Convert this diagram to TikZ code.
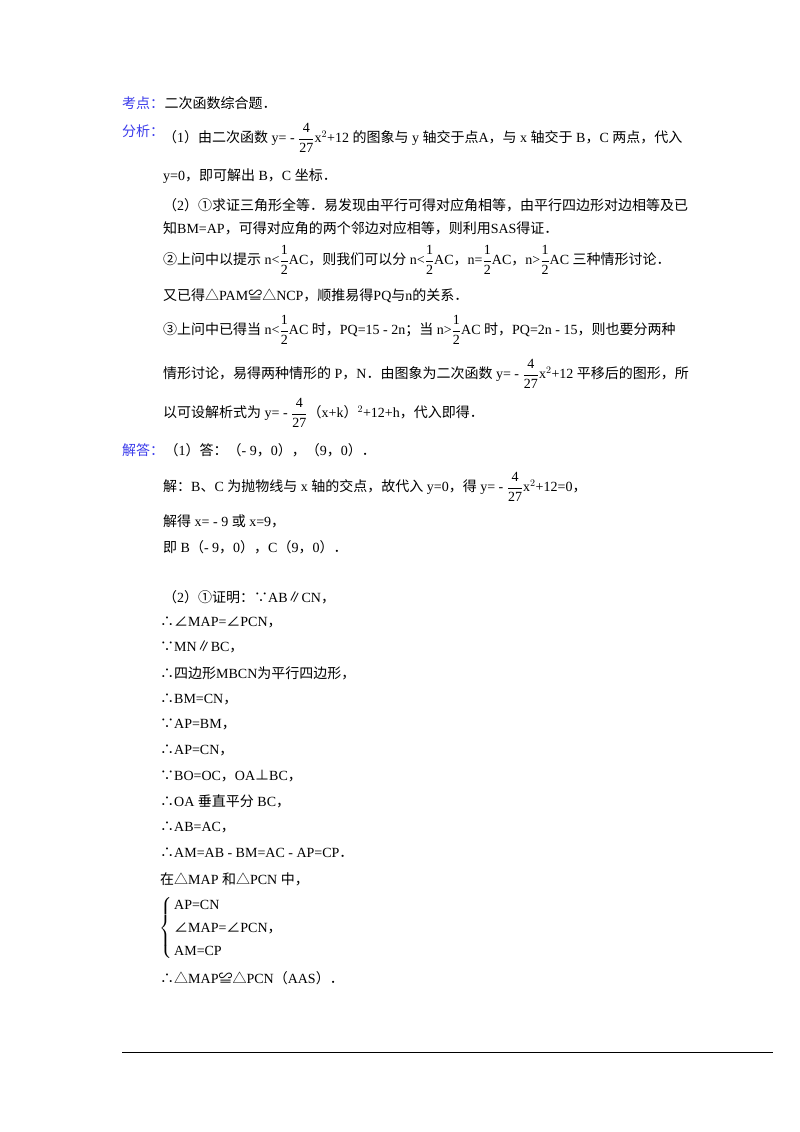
\documentclass[tikz,border=0pt]{standalone}
\usepackage{fontspec}
\setmainfont{Liberation Serif}
\newfontfamily\cjk{Noto Sans CJK SC}
\XeTeXinterchartokenstate=1
\newXeTeXintercharclass\cjkclass
\count255="4E00 \loop \XeTeXcharclass\count255=\cjkclass \advance\count255 1 \ifnum\count255<"A000 \repeat
\count255="3000 \loop \XeTeXcharclass\count255=\cjkclass \advance\count255 1 \ifnum\count255<"3040 \repeat
\count255="FF00 \loop \XeTeXcharclass\count255=\cjkclass \advance\count255 1 \ifnum\count255<"FF60 \repeat
\count255="2460 \loop \XeTeXcharclass\count255=\cjkclass \advance\count255 1 \ifnum\count255<"2474 \repeat
\XeTeXcharclass`∵=\cjkclass \XeTeXcharclass`∴=\cjkclass \XeTeXcharclass`∠=\cjkclass
\XeTeXcharclass`△=\cjkclass \XeTeXcharclass`≌=\cjkclass \XeTeXcharclass`∥=\cjkclass
\XeTeXcharclass`⊥=\cjkclass
\XeTeXinterchartoks 0 \cjkclass = {\begingroup\cjk}
\XeTeXinterchartoks 4095 \cjkclass = {\begingroup\cjk}
\XeTeXinterchartoks \cjkclass 0 = {\endgroup}
\XeTeXinterchartoks \cjkclass 4095 = {\endgroup}
\newcommand\fr[2]{$\dfrac{\mbox{#1}}{\mbox{#2}}$}
\usepackage{amsmath}
\definecolor{lbl}{RGB}{60,60,235}
\begin{document}
\begin{tikzpicture}[x=1pt,y=-1pt,
  t/.style={anchor=west,inner sep=0pt,font=\fontsize{14}{16}\selectfont}]
\useasboundingbox[fill=white] (0,0) rectangle (800,1132);
\node[t,text=lbl] (k) at (122,103) {考点：};
\node[t] (k1) at (k.east) {二次函数综合题．};
\node[t,text=lbl] (f) at (122,131) {分析：};
\node[t] (a1) at (163,138) {（1）由二次函数 y= - \fr{4}{27}x$^2$+12 的图象与 y 轴交于点A，与 x 轴交于 B，C 两点，代入};
\node[t] (a2) at (163,176) {y=0，即可解出 B，C 坐标．};
\node[t] (a3) at (163,205) {（2）①求证三角形全等．易发现由平行可得对应角相等，由平行四边形对边相等及已};
\node[t] (a4) at (163,228) {知BM=AP，可得对应角的两个邻边对应相等，则利用SAS得证．};
\node[t] (a5) at (163,260) {②上问中以提示 n<\fr{1}{2}AC，则我们可以分 n<\fr{1}{2}AC，n=\fr{1}{2}AC，n>\fr{1}{2}AC 三种情形讨论．};
\node[t] (a6) at (163,296) {又已得△PAM≌△NCP，顺推易得PQ与n的关系．};
\node[t] (a7) at (163,330) {③上问中已得当 n<\fr{1}{2}AC 时，PQ=15 - 2n；当 n>\fr{1}{2}AC 时，PQ=2n - 15，则也要分两种};
\node[t] (a8) at (163,374) {情形讨论，易得两种情形的 P，N．由图象为二次函数 y= - \fr{4}{27}x$^2$+12 平移后的图形，所};
\node[t] (a9) at (163,413) {以可设解析式为 y= - \fr{4}{27}（x+k）$^2$+12+h，代入即得．};
\node[t,text=lbl] (j) at (122,450) {解答：};
\node[t] (j1) at (j.east) {（1）答：（- 9，0），（9，0）．};
\node[t] (b1) at (163,487) {解：B、C 为抛物线与 x 轴的交点，故代入 y=0，得 y= - \fr{4}{27}x$^2$+12=0，};
\node[t] (b2) at (163,521) {解得 x= - 9 或 x=9，};
\node[t] (b3) at (163,547) {即 B（- 9，0），C（9，0）．};
\node[t] (c1) at (163,597) {（2）①证明：∵AB∥CN，};
\node[t] (c2) at (160,622) {∴∠MAP=∠PCN，};
\node[t] (c3) at (160,647) {∵MN∥BC，};
\node[t] (c4) at (160,673) {∴四边形MBCN为平行四边形，};
\node[t] (c5) at (160,699) {∴BM=CN，};
\node[t] (c6) at (160,724) {∵AP=BM，};
\node[t] (c7) at (160,750) {∴AP=CN，};
\node[t] (c8) at (160,776) {∵BO=OC，OA⊥BC，};
\node[t] (c9) at (160,801) {∴OA 垂直平分 BC，};
\node[t] (c10) at (160,827) {∴AB=AC，};
\node[t] (c11) at (160,853) {∴AM=AB - BM=AC - AP=CP．};
\node[t] (c12) at (160,879) {在△MAP 和△PCN 中，};
\node[t] (s) at (159,928) {$\left\{\vphantom{\rule{0pt}{34pt}}\right.$};
\node[t] (s1) at (174,905) {AP=CN};
\node[t] (s2) at (174,928) {∠MAP=∠PCN，};
\node[t] (s3) at (174,951) {AM=CP};
\node[t] (c13) at (160,978) {∴△MAP≌△PCN（AAS）．};
\coordinate (l1) at (122,1052);
\coordinate (l2) at (773,1052);
\draw[line width=0.8pt] (l1) -- (l2);
\end{tikzpicture}
\end{document}
